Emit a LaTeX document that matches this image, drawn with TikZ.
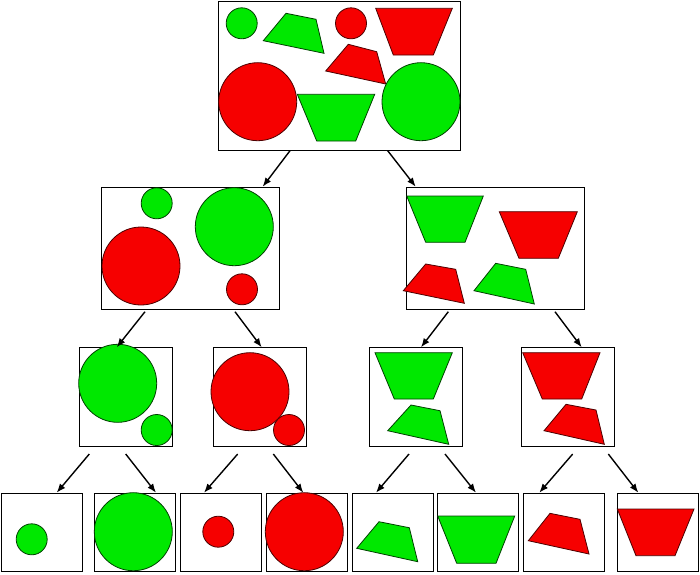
\documentclass[tikz,border=0pt]{standalone}
\usepackage{tikz}
\usepackage{xcolor}
\usetikzlibrary{arrows.meta}

\definecolor{shapegreen}{RGB}{0,232,0}
\definecolor{shapered}{RGB}{246,0,0}

\begin{document}
\begin{tikzpicture}[x=1pt, y=-1pt,
        box/.style={draw, line width=1.1pt, inner sep=0pt, anchor=north west},
        gshape/.style={fill=shapegreen, draw=black!75!green, line width=0.8pt},
        rshape/.style={fill=shapered, draw=black!70!red, line width=0.8pt},
        arr/.style={-{Latex[length=9pt, width=7pt]}, line width=1.4pt}]
        \useasboundingbox (0,0) rectangle (700,574);

        % Root box
        \node[box, minimum width=242pt, minimum height=149pt] (root) at (218,1) {};
        \filldraw[gshape] (241.7,23.3) circle[radius=15.5pt];
        \filldraw[gshape] (286,13.3) -- (316,19.3) -- (324,53.3) -- (263.3,40.7) -- cycle;
        \filldraw[rshape] (351,23.3) circle[radius=15.5pt];
        \filldraw[rshape] (375.7,8.3) -- (452.3,8.3) -- (433.3,55) -- (393.3,55) -- cycle;
        \filldraw[rshape] (348.3,44.3) -- (376.7,51.7) -- (385.7,84) -- (325.7,71) -- cycle;
        \filldraw[rshape] (257.7,101.7) circle[radius=39pt];
        \filldraw[gshape] (297.3,94.3) -- (374.7,94.3) -- (355.7,141) -- (316.7,141) -- cycle;
        \filldraw[gshape] (421,101.7) circle[radius=39pt];

        % Level 1: circles
        \node[box, minimum width=178pt, minimum height=122pt] (circ) at (100.7,186.7) {};
        \filldraw[gshape] (156.7,203.3) circle[radius=15.5pt];
        \filldraw[gshape] (234.3,226.7) circle[radius=39pt];
        \filldraw[rshape] (141,266) circle[radius=39pt];
        \filldraw[rshape] (242,289.3) circle[radius=15.5pt];

        % Level 1: trapezoids
        \node[box, minimum width=178pt, minimum height=122pt] (trap) at (405.7,186.7) {};
        \filldraw[gshape] (406.7,196) -- (483.3,196) -- (465,242.3) -- (425.7,242.3) -- cycle;
        \filldraw[rshape] (499.3,211.7) -- (577.3,211.7) -- (558.3,258.3) -- (519,258.3) -- cycle;
        \filldraw[rshape] (425.7,264) -- (455.7,269.3) -- (464.3,303.3) -- (403.3,290.7) -- cycle;
        \filldraw[gshape] (495.7,263.3) -- (525.7,269.3) -- (534.3,304) -- (474,290.7) -- cycle;

        % Level 2
        \node[box, minimum width=93pt, minimum height=99pt] (gcirc) at (78.7,347.3) {};
        \filldraw[gshape] (117.7,383.3) circle[radius=39pt];
        \filldraw[gshape] (156.7,430) circle[radius=15.5pt];
        \node[box, minimum width=93pt, minimum height=99pt] (rcirc) at (212.7,347.3) {};
        \filldraw[rshape] (250,391.7) circle[radius=39pt];
        \filldraw[rshape] (289,430) circle[radius=15.5pt];
        \node[box, minimum width=93pt, minimum height=99pt] (gtrap) at (369.3,347.3) {};
        \filldraw[gshape] (375,352.7) -- (452.3,352.7) -- (433.3,399) -- (394.3,399) -- cycle;
        \filldraw[gshape] (411,405) -- (440,410.7) -- (448.7,444.3) -- (387.7,430.7) -- cycle;
        \node[box, minimum width=93pt, minimum height=99pt] (rtrap) at (521.3,347.3) {};
        \filldraw[rshape] (522.7,352.7) -- (600,352.7) -- (581.7,399) -- (542.3,399) -- cycle;
        \filldraw[rshape] (566,404.3) -- (596,410) -- (604.3,444.3) -- (544,430.7) -- cycle;

        % Level 3
        \node[box, minimum width=81pt, minimum height=78pt] (gs) at (1,492.7) {};
        \filldraw[gshape] (31.7,539.3) circle[radius=15.5pt];
        \node[box, minimum width=81pt, minimum height=78pt] (gb) at (94.3,492.7) {};
        \filldraw[gshape] (133.3,531.7) circle[radius=39pt];
        \node[box, minimum width=81pt, minimum height=78pt] (rs) at (180,492.7) {};
        \filldraw[rshape] (218.3,531.7) circle[radius=15.5pt];
        \node[box, minimum width=81pt, minimum height=78pt] (rb) at (265.7,492.7) {};
        \filldraw[rshape] (304.3,531.7) circle[radius=39pt];
        \node[box, minimum width=81pt, minimum height=78pt] (gt) at (351.7,492.7) {};
        \filldraw[gshape] (379,521.7) -- (409.3,527.7) -- (417.7,561.7) -- (356.7,548.3) -- cycle;
        \node[box, minimum width=81pt, minimum height=78pt] (gu) at (437.3,492.7) {};
        \filldraw[gshape] (437.7,516) -- (514.7,516) -- (496,563.3) -- (456.7,563.3) -- cycle;
        \node[box, minimum width=81pt, minimum height=78pt] (rt) at (522.7,492.7) {};
        \filldraw[rshape] (550,513.3) -- (580,519.3) -- (589,554) -- (528.3,540.7) -- cycle;
        \node[box, minimum width=81pt, minimum height=78pt] (ru) at (616.5,492.7) {};
        \filldraw[rshape] (617.3,509) -- (694,509) -- (675,555.7) -- (636,555.7) -- cycle;

        % Arrow ends
        \coordinate (root1) at (290,150.7);
        \coordinate (root2) at (387.7,150.7);
        \coordinate (circ1) at (145,311.7);
        \coordinate (circ2) at (235,311.7);
        \coordinate (trap1) at (448.3,311.7);
        \coordinate (trap2) at (555,311.7);
        \coordinate (gcirc1) at (89.3,454);
        \coordinate (gcirc2) at (125.7,454);
        \coordinate (rcirc1) at (237.7,454);
        \coordinate (rcirc2) at (273.3,454);
        \coordinate (gtrap1) at (409,454);
        \coordinate (gtrap2) at (445,454);
        \coordinate (rtrap1) at (572.7,454);
        \coordinate (rtrap2) at (608.3,454);
        \coordinate (circin) at (262.7,186.7);
        \coordinate (trapin) at (415.7,186.7);
        \coordinate (gcircin) at (116.7,347.3);
        \coordinate (rcircin) at (261.7,347.3);
        \coordinate (gtrapin) at (421,347.3);
        \coordinate (rtrapin) at (581.7,347.3);
        \coordinate (gsin) at (56.7,492.7);
        \coordinate (gbin) at (156,492.7);
        \coordinate (rsin) at (204,492.7);
        \coordinate (rbin) at (303.3,492.7);
        \coordinate (gtin) at (376,492.7);
        \coordinate (guin) at (476,492.7);
        \coordinate (rtin) at (539.3,492.7);
        \coordinate (ruin) at (638.3,492.7);

        % Arrows
        \draw[arr] (root1) -- (circin);
        \draw[arr] (root2) -- (trapin);
        \draw[arr] (circ1) -- (gcircin);
        \draw[arr] (circ2) -- (rcircin);
        \draw[arr] (trap1) -- (gtrapin);
        \draw[arr] (trap2) -- (rtrapin);
        \draw[arr] (gcirc1) -- (gsin);
        \draw[arr] (gcirc2) -- (gbin);
        \draw[arr] (rcirc1) -- (rsin);
        \draw[arr] (rcirc2) -- (rbin);
        \draw[arr] (gtrap1) -- (gtin);
        \draw[arr] (gtrap2) -- (guin);
        \draw[arr] (rtrap1) -- (rtin);
        \draw[arr] (rtrap2) -- (ruin);
    \end{tikzpicture}
\end{document}
